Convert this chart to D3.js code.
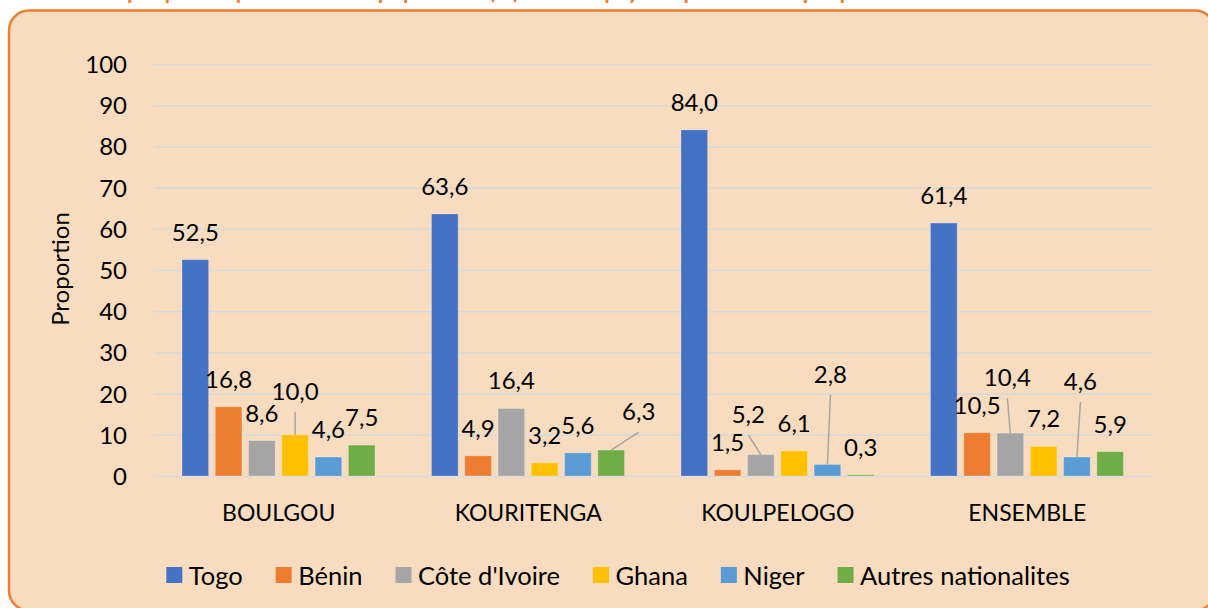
<!DOCTYPE html>
<html>
<head>
<meta charset="utf-8">
<script src="https://cdn.jsdelivr.net/npm/d3@7"></script>
<style>
    body { margin: 0; background: #fff; }
    text { font-family: Lato, "Open Sans", sans-serif; fill: #000; }
</style>
</head>
<body>
<script>
//chart data
var provinces = ["BOULGOU", "KOURITENGA", "KOULPELOGO", "ENSEMBLE"];
var pays = ["Togo", "Bénin", "Côte d'Ivoire", "Ghana", "Niger", "Autres nationalites"];
var togo = [52.5, 63.6, 84.0, 61.4];
var benin = [16.8, 4.9, 1.5, 10.5];
var coteIvoire = [8.6, 16.4, 5.2, 10.4];
var ghana = [10.0, 3.2, 6.1, 7.2];
var niger = [4.6, 5.6, 2.8, 4.6];
var autres = [7.5, 6.3, 0.3, 5.9];
var yTicks = [0, 10, 20, 30, 40, 50, 60, 70, 80, 90, 100];

var series = [togo, benin, coteIvoire, ghana, niger, autres];
var colors = ["#4472C4", "#ED7D31", "#A5A5A5", "#FFC000", "#5B9BD5", "#70AD47"];

//labels that were moved off their bar (with a leader line), [dx, dy]
var nudge = {
    "BOULGOU|Ghana": [0, -16],
    "KOURITENGA|Autres nationalites": [27.5, -11],
    "KOULPELOGO|Côte d'Ivoire": [-12.5, -12.6],
    "KOULPELOGO|Niger": [3, -62.5],
    "ENSEMBLE|Côte d'Ivoire": [-3, -28],
    "ENSEMBLE|Niger": [3.5, -48]
};

window.onload = function(){

    var w = 1208, h = 608;
    var svg = d3.select("body")
        .append("svg")
        .attr("width", w)
        .attr("height", h);

    //peach frame with orange border
    svg.append("rect")
        .attr("x", 9)
        .attr("y", 10.5)
        .attr("width", 1206)
        .attr("height", 600)
        .attr("rx", 20)
        .style("fill", "#F8DCBF")
        .style("stroke", "#ED7D31")
        .style("stroke-width", 2.5);

    //title, mostly above the visible page (cut off in the source too)
    svg.append("text")
        .attr("x", 92)
        .attr("y", -1)
        .style("font-size", "22px")
        .style("font-weight", "bold")
        .style("fill", "#ED7D31")
        .text("Graphique : Répartition de la population (%) selon le pays de provenance par province");

    var x0 = d3.scaleBand()
        .domain(provinces)
        .range([154, 1152]);

    var x1 = d3.scaleBand()
        .domain(pays)
        .range([28, 221])
        .paddingInner(0.2);

    var y = d3.scaleLinear()
        .domain([0, 100])
        .range([476, 64]);

    //y axis with gridlines
    var yAxis = d3.axisLeft(y)
        .tickValues(yTicks)
        .tickSize(-(1152 - 154))
        .tickPadding(27);

    var gy = svg.append("g")
        .attr("transform", "translate(154,0)")
        .call(yAxis);
    gy.select(".domain").remove();
    gy.selectAll("line")
        .style("stroke", "#D9D9D9")
        .style("stroke-width", 1.5);
    gy.selectAll("text")
        .attr("dy", null)
        .attr("y", 8.5)
        .style("font-size", "24px")
        .style("font-family", "Lato, sans-serif");

    //x axis labels
    var xAxis = d3.axisBottom(x0)
        .tickSize(0)
        .tickPadding(28.5);
    var gx = svg.append("g")
        .attr("transform", "translate(0,476)")
        .call(xAxis);
    gx.select(".domain").remove();
    gx.selectAll("text")
        .style("font-size", "23px")
        .style("font-family", "Lato, sans-serif");

    //y axis title
    svg.append("text")
        .attr("transform", "translate(69,269) rotate(-90)")
        .attr("text-anchor", "middle")
        .style("font-size", "24px")
        .text("Proportion");

    //flatten to one row per bar
    var rows = [];
    provinces.forEach(function(p, i){
        pays.forEach(function(s, j){
            rows.push({ province: p, pays: s, value: series[j][i], color: colors[j] });
        });
    });

    var groups = svg.selectAll(".group")
        .data(provinces)
        .enter()
        .append("g")
        .attr("class", "group")
        .attr("transform", function(d){ return "translate(" + x0(d) + ",0)"; });

    groups.selectAll("rect")
        .data(function(p){ return rows.filter(function(r){ return r.province == p; }); })
        .enter()
        .append("rect")
        .attr("x", function(d){ return x1(d.pays); })
        .attr("y", function(d){ return y(d.value); })
        .attr("width", x1.bandwidth())
        .attr("height", function(d){ return y(0) - y(d.value); })
        .style("fill", function(d){ return d.color; })
        .style("stroke", "rgba(255,255,255,0.25)")
        .style("stroke-width", 1);

    var format = function(v){ return d3.format(".1f")(v).replace(".", ","); };

    //leader lines for moved labels
    groups.selectAll(".leader")
        .data(function(p){ return rows.filter(function(r){ return r.province == p && nudge[r.province + "|" + r.pays]; }); })
        .enter()
        .append("line")
        .attr("class", "leader")
        .attr("x1", function(d){ return x1(d.pays) + x1.bandwidth() / 2 + nudge[d.province + "|" + d.pays][0]; })
        .attr("y1", function(d){ return y(d.value) - 19 + nudge[d.province + "|" + d.pays][1] + 12; })
        .attr("x2", function(d){ return x1(d.pays) + x1.bandwidth() / 2; })
        .attr("y2", function(d){ return y(d.value); })
        .style("stroke", "#A6A6A6")
        .style("stroke-width", 1.5);

    //value labels
    groups.selectAll(".vlabel")
        .data(function(p){ return rows.filter(function(r){ return r.province == p; }); })
        .enter()
        .append("text")
        .attr("class", "vlabel")
        .attr("text-anchor", "middle")
        .attr("x", function(d){
            var n = nudge[d.province + "|" + d.pays] || [0, 0];
            return x1(d.pays) + x1.bandwidth() / 2 + n[0];
        })
        .attr("y", function(d){
            var n = nudge[d.province + "|" + d.pays] || [0, 0];
            return y(d.value) - 19 + n[1];
        })
        .style("font-size", "24px")
        .text(function(d){ return format(d.value); });

    //legend
    var legend = svg.append("g");
    var items = legend.selectAll(".item")
        .data(pays)
        .enter()
        .append("g")
        .attr("class", "item");
    items.append("rect")
        .attr("y", 567)
        .attr("width", 16)
        .attr("height", 16)
        .style("fill", function(d, i){ return colors[i]; });
    items.append("text")
        .attr("x", 22.5)
        .attr("y", 584.5)
        .style("font-size", "25.5px")
        .text(function(d){ return d; });

    var pos = 0, offsets = [];
    items.each(function(){
        offsets.push(pos);
        pos += 22.5 + d3.select(this).select("text").node().getComputedTextLength() + 33;
    });
    var total = pos - 33;
    var start = 618 - total / 2;
    items.attr("transform", function(d, i){ return "translate(" + (start + offsets[i]) + ",0)"; });
}
</script>
</body>
</html>
